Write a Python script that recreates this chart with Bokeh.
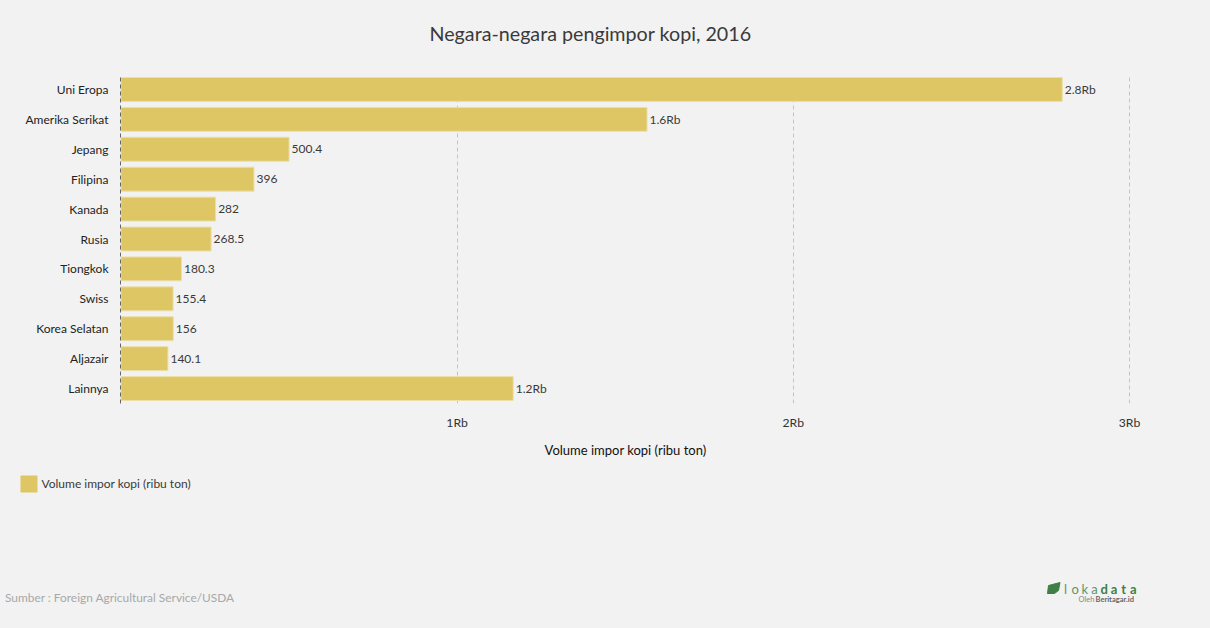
from bokeh.embed import file_html
from bokeh.resources import INLINE
from bokeh.plotting import figure
from bokeh.models import ColumnDataSource, Range1d, FactorRange, FixedTicker
from bokeh.core.properties import value

title_text = "Negara-negara pengimpor kopi, 2016"
series_name = "Volume impor kopi (ribu ton)"
source_text = "Sumber : Foreign Agricultural Service/USDA"
categories = ["Uni Eropa", "Amerika Serikat", "Jepang", "Filipina", "Kanada", "Rusia",
              "Tiongkok", "Swiss", "Korea Selatan", "Aljazair", "Lainnya"]
volumes = [2800, 1565, 500.4, 396, 282, 268.5, 180.3, 155.4, 156, 140.1, 1167]
value_labels = ["2.8Rb", "1.6Rb", "500.4", "396", "282", "268.5", "180.3", "155.4", "156", "140.1", "1.2Rb"]
tick_values = [1000, 2000, 3000]
tick_labels = ["1Rb", "2Rb", "3Rb"]
logo_letters = list("lokadata")

BG = "#f2f2f2"
BAR = "#dec664"
FONT = "Lato"
LOGO = "#3f7f45"


def strip(height, y_top, y_bottom):
    """A frameless figure addressed in page pixels."""
    s = figure(width=1210, height=height, output_backend="svg", toolbar_location=None,
               x_range=Range1d(0, 1210), y_range=Range1d(y_bottom, y_top),
               background_fill_color=BG, border_fill_color=BG, outline_line_color=None,
               min_border=0, x_axis_type=None, y_axis_type=None)
    s.grid.visible = False
    return s


def note(fig, x, y, text, size, color, style="normal", align="left"):
    fig.text(x=[x], y=[y], text=[text], text_baseline="middle", text_align=align,
             text_font=value(FONT), text_font_size=size, text_color=color, text_font_style=style)


head = strip(74, 0, 74)
note(head, 429, 33, title_text, "19.7px", "#3a3a3a")

p = figure(width=1210, height=396, output_backend="svg", toolbar_location=None,
           x_range=Range1d(-1, 3003), y_range=FactorRange(factors=categories[::-1], range_padding=0),
           background_fill_color=BG, border_fill_color=BG, outline_line_color=None,
           min_border_left=120, min_border_right=80, min_border_top=0, min_border_bottom=67)

src = ColumnDataSource(dict(cat=categories, vol=volumes, lab=value_labels))
p.hbar(y="cat", right="vol", left=0, height=0.8, source=src, fill_color=BAR,
       line_color="#ecdfa8", line_width=1)
p.text(x="vol", y="cat", text="lab", source=src, x_offset=2.5, text_baseline="middle", text_align="left",
       text_font=value(FONT), text_font_size="12px", text_color="#3a3a3a")

p.ygrid.visible = False
p.xgrid.ticker = FixedTicker(ticks=tick_values)
p.xgrid.grid_line_color = "#c4c4c4"
p.xgrid.grid_line_dash = "4 3"

xa = p.xaxis[0]
xa.ticker = FixedTicker(ticks=tick_values)
xa.major_label_overrides = dict(zip(tick_values, tick_labels))
xa.axis_line_color = None
xa.major_tick_line_color = None
xa.minor_tick_line_color = None
xa.major_label_standoff = 5
xa.major_label_text_font = FONT
xa.major_label_text_font_size = "12.2px"
xa.major_label_text_color = "#333333"
xa.axis_label = series_name
xa.axis_label_standoff = 9
xa.axis_label_text_font = FONT
xa.axis_label_text_font_size = "13px"
xa.axis_label_text_font_style = "normal"
xa.axis_label_text_color = "#111111"

ya = p.yaxis[0]
ya.axis_line_color = "#666666"
ya.axis_line_dash = "4 3"
ya.major_tick_line_color = None
ya.minor_tick_line_color = None
ya.major_label_standoff = 6
ya.major_label_text_font = FONT
ya.major_label_text_font_size = "12px"
ya.major_label_text_color = "#222222"

# Footer: legend, source note and logo.
f = strip(158, 470, 628)
f.rect(x=[28.5], y=[483.5], width=17, height=17, fill_color=BAR, line_color=None)
note(f, 41, 483, series_name, "12px", "#3a3a3a")
note(f, 4.5, 597, source_text, "11.9px", "#a8a8a8")

f.patch(x=[1048, 1059.5, 1058, 1054, 1047], y=[585, 582, 590, 593, 593], fill_color=LOGO, line_color=LOGO)
for i, ch in enumerate(logo_letters):
    note(f, 1065 + i * 9.7, 588, ch, "13px", LOGO if i >= 4 else "#5f9464", "bold" if i >= 4 else "normal", "center")
note(f, 1078, 598.5, "Oleh", "7.5px", "#888888")
note(f, 1095, 598.5, "Beritagar.id", "7.5px", "#666666", "bold")

html = file_html([head, p, f], INLINE)
html = html.replace("<head>", "<head><style>html,body{margin:0;padding:0;background:#f2f2f2;overflow:hidden}</style>", 1)
open("out.html", "w").write(html)
